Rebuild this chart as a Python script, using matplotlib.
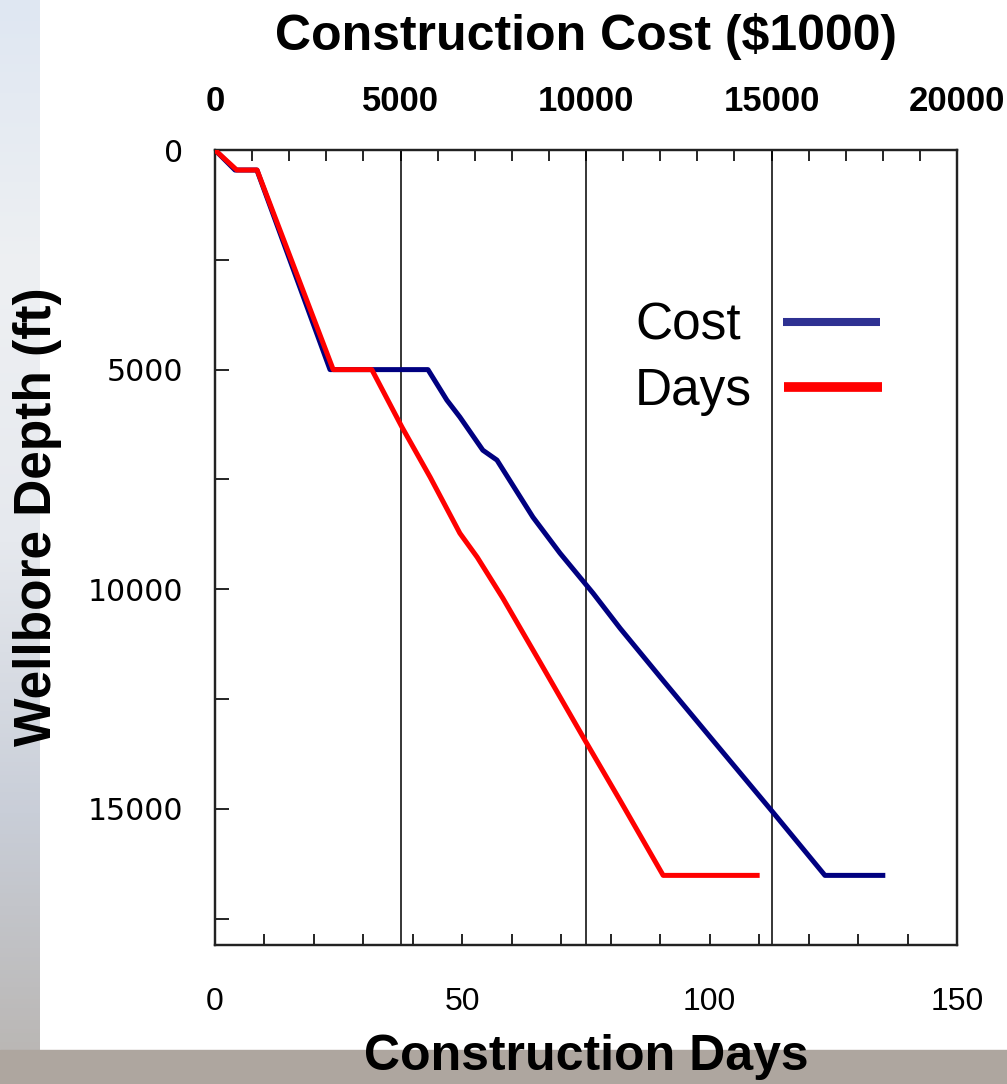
import matplotlib
matplotlib.use("Agg")
import matplotlib.pyplot as plt
import numpy as np
from matplotlib.ticker import MultipleLocator
from matplotlib.patches import Rectangle
from matplotlib.colors import LinearSegmentedColormap

# ---- data ----
days_x = [0, 4.4, 8.5, 23.9, 31.7, 37.8, 43.5, 49.5, 53.0, 58.2, 65.7, 74.8, 81.9, 90.6, 109.6]
days_depth = [0, 456, 456, 5000, 5000, 6310, 7450, 8725, 9270, 10205, 11660, 13440, 14810, 16515, 16515]

cost_x = [0, 540, 1130, 3100, 5740, 6250, 6600, 7220, 7600, 8570, 9300, 10190, 10920, 12075, 13420, 15040, 16440, 18000]
cost_depth = [0, 456, 456, 5000, 5000, 5695, 6080, 6835, 7060, 8360, 9180, 10090, 10890, 12075, 13440, 15080, 16515, 16515]

day_ticks = [0, 50, 100, 150]
cost_ticks = [0, 5000, 10000, 15000, 20000]
depth_ticks = [0, 5000, 10000, 15000]

W, H = 1007, 1084
fig = plt.figure(figsize=(W / 100, H / 100), dpi=100)
fig.patch.set_facecolor("white")

# faded background remnants (left strip gradient, bottom strip)
bg = fig.add_axes([0, 0, 40 / W, 1], zorder=-10)
grad = np.linspace(0, 1, 256).reshape(-1, 1)
cm = LinearSegmentedColormap.from_list(
    "bg", ["#dfe7f2", "#eef0f3", "#e6e9ee", "#c9ced8", "#b8b4b0"])
bg.imshow(grad, aspect="auto", cmap=cm, extent=[0, 1, 0, 1])
bg.axis("off")
fig.add_artist(Rectangle((0, 0), 1, 34 / H, transform=fig.transFigure,
                         color="#aea69f", zorder=-9))

left, right = 215 / W, 957 / W
top, bottom = 1 - 150 / H, 1 - 945 / H
ax = fig.add_axes([left, bottom, right - left, top - bottom])

ax.plot(days_x, days_depth, color="#ff0000", lw=3.6, zorder=4, label="Days")
ax.set_xlim(0, 150)
ax.set_ylim(18100, 0)

ax2 = ax.twiny()
ax2.plot(cost_x, cost_depth, color="#000080", lw=3.6, zorder=3, label="Cost")
ax2.set_xlim(0, 20000)
ax2.set_facecolor("white")

# ticks
ax.set_xticks(day_ticks)
ax.xaxis.set_minor_locator(MultipleLocator(10))
ax.set_yticks(depth_ticks)
ax.yaxis.set_minor_locator(MultipleLocator(2500))
ax2.set_xticks(cost_ticks)
ax2.xaxis.set_minor_locator(MultipleLocator(1000))

ax.tick_params(axis="x", which="both", direction="in", length=8, width=1.2,
               labelsize=23, pad=30, colors="black")
ax.tick_params(axis="y", which="both", direction="in", length=10, width=1.2,
               labelsize=21.5, pad=23)
ax.tick_params(axis="y", which="both", right=False)
ax2.tick_params(axis="x", which="both", direction="in", length=8, width=1.2,
                labelsize=25, pad=23)
for lbl in ax2.get_xticklabels():
    lbl.set_fontweight("bold")
    lbl.set_family("Liberation Sans")
for lbl in ax.get_xticklabels():
    lbl.set_family("Liberation Sans")
for lbl in ax.get_yticklabels():
    lbl.set_family("DejaVu Sans")

# vertical grid lines at cost majors
ax2.grid(True, axis="x", which="major", color="black", lw=1.1)
ax2.set_axisbelow(True)
ax.set_zorder(ax2.get_zorder() + 1)
ax.patch.set_visible(False)

for a in (ax, ax2):
    for s in a.spines.values():
        s.set_linewidth(1.6)
        s.set_color("#222222")

ax2.set_xlabel("Construction Cost ($1000)", fontsize=36, fontweight="bold",
               family="Liberation Sans", labelpad=25)
ax.set_xlabel("Construction Days", fontsize=36, fontweight="bold",
              family="Liberation Sans")
ax.xaxis.set_label_coords(0.5, (945 - 1057) / 795, transform=ax.transAxes)
ax.xaxis.label.set_va("center")
ax.set_ylabel("Wellbore Depth (ft)", fontsize=37, fontweight="heavy",
              family="Liberation Sans")
ax.yaxis.set_label_coords((38 - 215) / 742, (945 - 517) / 795)
ax.yaxis.label.set_va("center")

# legend (one block per entry so the labels are left aligned)
h1, l1 = ax2.get_legend_handles_labels()
h0, l0 = ax.get_legend_handles_labels()
legs = []
for hh, ll, ya, col, lw, tp in [(h1, l1, 0.809, "#2e3192", 5.8, 0.82),
                                (h0, l0, 0.727, "#ff0000", 7, 0.62)]:
    lg = ax.legend(hh, ll, loc="upper left", bbox_to_anchor=(0.566, ya),
                   frameon=False, markerfirst=False, handlelength=1.9,
                   handletextpad=tp, borderpad=0, borderaxespad=0,
                   prop={"family": "Liberation Sans", "size": 37})
    ln = lg.get_lines()[0]
    ln.set_color(col)
    ln.set_linewidth(lw)
    ln.set_solid_capstyle("butt")
    legs.append(lg)
ax.add_artist(legs[0])

fig.savefig("out.png", dpi=100, facecolor=fig.get_facecolor())
